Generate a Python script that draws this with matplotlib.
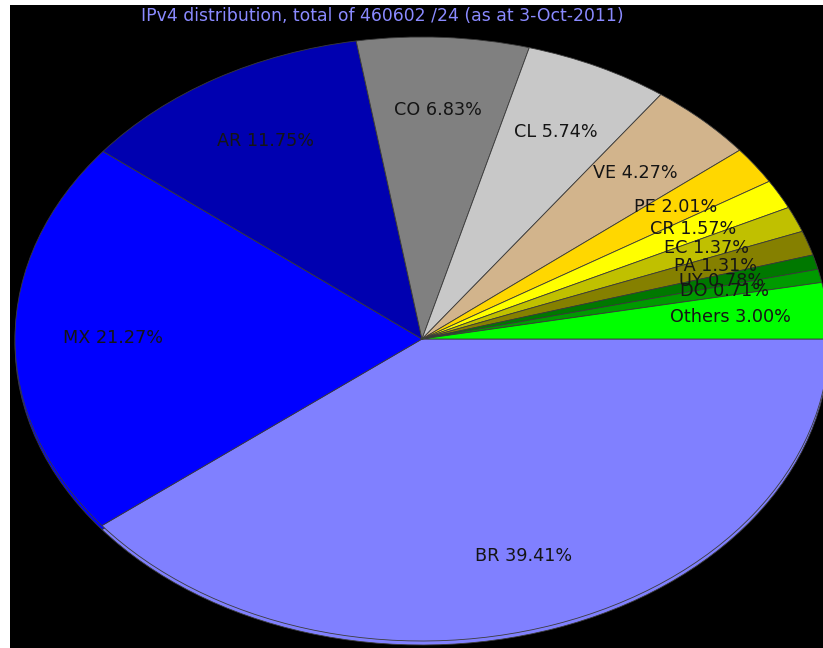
import matplotlib.pyplot as plt

countries = ["BR", "MX", "AR", "CO", "CL", "VE", "PE", "CR", "EC", "PA", "UY", "DO", "Others"]
shares = [39.41, 21.27, 11.75, 6.83, 5.74, 4.27, 2.01, 1.57, 1.37, 1.31, 0.78, 0.71, 3.00]
colors = ["#8080ff", "#0000ff", "#0000b0", "#808080", "#c8c8c8", "#d2b48c", "#ffd700",
          "#ffff00", "#c0c000", "#858000", "#007800", "#009a00", "#00ff00"]
title = "IPv4 distribution, total of 460602 /24 (as at 3-Oct-2011)"

labels = ["%s %.2f%%" % (c, v) for c, v in zip(countries, shares)]

fig = plt.figure(figsize=(8.23, 6.48), dpi=100)
fig.patch.set_facecolor("white")
ax = fig.add_axes([10 / 823, 0, 813 / 823, 643 / 648])
ax.set_facecolor("black")

# pixel geometry of the ellipse: centre (422, 339), rx 407, ry 302
rim = 4 / 302
wp = dict(edgecolor="#3a3a3a", linewidth=0.6)
ax.pie(shares, colors=colors, startangle=0, counterclock=False,
       center=(0, -rim), wedgeprops=wp, frame=True)
wedges, texts = ax.pie(shares, labels=labels, colors=colors, startangle=0,
                       counterclock=False, labeldistance=0.76, wedgeprops=wp,
                       frame=True, textprops=dict(fontsize=12.7, color="#151515"))
for t in texts:
    t.set_ha("center")
    t.set_va("center")

ax.set_aspect("auto")
ax.set_xlim((10 - 422) / 407, (823 - 422) / 407)
ax.set_ylim((339 - 648) / 302, (339 - 5) / 302)
ax.set_xticks([])
ax.set_yticks([])
for s in ax.spines.values():
    s.set_visible(False)

fig.text(382 / 823, 1 - 16 / 648, title, ha="center", va="center", color="#8a8aff",
         fontsize=12.4)

fig.savefig("out.png", dpi=100)
